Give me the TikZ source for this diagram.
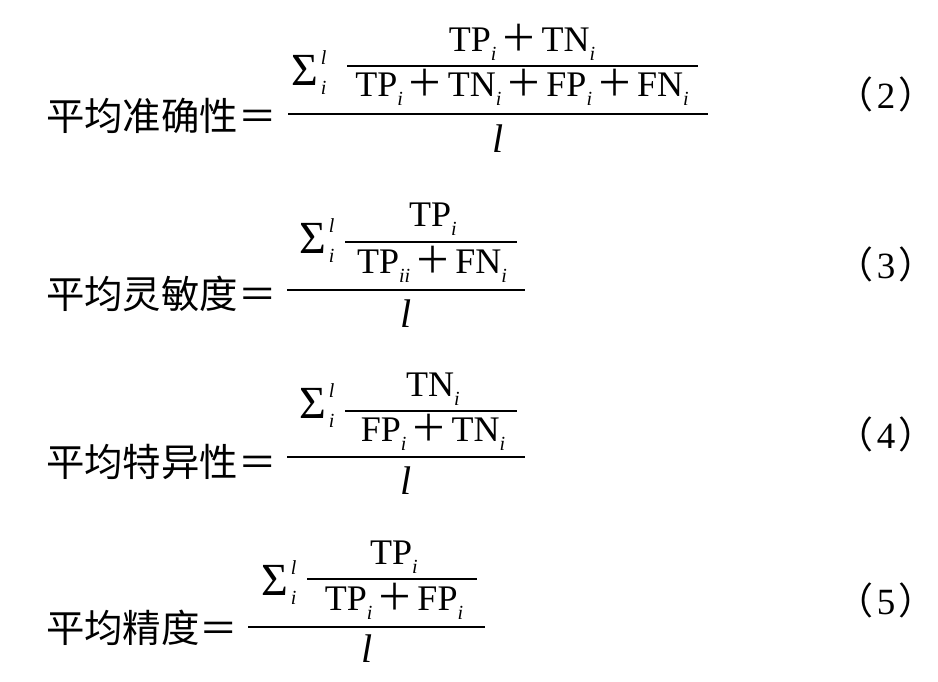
\documentclass[tikz,border=0pt]{standalone}
\usepackage{fontspec}
\setmainfont{Liberation Serif}
\newfontfamily\cjk{Noto Sans CJK SC}
\newcommand\lat{\fontsize{36}{36}\selectfont}
\newcommand\sbf{\fontsize{20}{20}\selectfont\itshape}
\newcommand\sbi[1]{\raisebox{-9pt}{\sbf #1}}
\newcommand\pls{\makebox[45pt]{\cjk\fontsize{37}{37}\selectfont ＋}}
\newcommand\eqn[1]{\cjk（\hspace{3pt}\rmfamily #1\hspace{3pt}\cjk）}
\newcommand\sumli{Σ\hspace{3pt}\rlap{\raisebox{21pt}{\sbf l}}\raisebox{-9pt}{\sbf i}}
\tikzset{
  cn/.style={anchor=base west, inner sep=0pt, font=\cjk\fontsize{38.4}{38.4}\selectfont},
  tx/.style={anchor=base, inner sep=0pt, font=\lat},
  sig/.style={anchor=base west, inner sep=0pt, font=\fontsize{46}{46}\selectfont},
  bigl/.style={anchor=base, inner sep=0pt, font=\fontsize{40}{40}\selectfont\itshape},
  eqno/.style={anchor=base, inner sep=0pt, font=\fontsize{37}{37}\selectfont},
  bar/.style={line width=1.6pt}
}
\begin{document}
\begin{tikzpicture}[x=1pt,y=-1pt]
\useasboundingbox (0,0) rectangle (938,681);
% ---------- equation (2)
\node[cn] (c1) at (46,130) {平均准确性＝};
\node[sig] (s1) at (291,85) {\sumli};
\node[tx] (n1) at (522,51) {TP\sbi{i}\pls TN\sbi{i}};
\node[tx] (d1) at (522,96) {TP\sbi{i}\pls TN\sbi{i}\pls FP\sbi{i}\pls FN\sbi{i}};
\coordinate (i1a) at (347,66); \coordinate (i1b) at (698,66);
\coordinate (m1a) at (288,114); \coordinate (m1b) at (708,114);
\draw[bar] (i1a) -- (i1b);
\draw[bar] (m1a) -- (m1b);
\node[bigl] (l1) at (498,152) {l};
\node[eqno] (e1) at (886,108) {\eqn{2}};
% ---------- equation (3)
\node[cn] (c2) at (46,308) {平均灵敏度＝};
\node[sig] (s2) at (299,253) {\sumli};
\node[tx] (n2) at (433,226) {TP\sbi{i}};
\node[tx] (d2) at (432,273) {TP\sbi{ii}\pls FN\sbi{i}};
\coordinate (i2a) at (345,242); \coordinate (i2b) at (517,242);
\coordinate (m2a) at (287,290); \coordinate (m2b) at (525,290);
\draw[bar] (i2a) -- (i2b);
\draw[bar] (m2a) -- (m2b);
\node[bigl] (l2) at (406,327) {l};
\node[eqno] (e2) at (886,278) {\eqn{3}};
% ---------- equation (4)
\node[cn] (c3) at (46,476) {平均特异性＝};
\node[sig] (s3) at (299,418) {\sumli};
\node[tx] (n3) at (433,396) {TN\sbi{i}};
\node[tx] (d3) at (433,441) {FP\sbi{i}\pls TN\sbi{i}};
\coordinate (i3a) at (345,411); \coordinate (i3b) at (517,411);
\coordinate (m3a) at (287,457); \coordinate (m3b) at (525,457);
\draw[bar] (i3a) -- (i3b);
\draw[bar] (m3a) -- (m3b);
\node[bigl] (l3) at (406,494) {l};
\node[eqno] (e3) at (886,448) {\eqn{4}};
% ---------- equation (5)
\node[cn] (c4) at (46,642) {平均精度＝};
\node[sig] (s4) at (261,595) {\sumli};
\node[tx] (n4) at (394,564) {TP\sbi{i}};
\node[tx] (d4) at (394,610) {TP\sbi{i}\pls FP\sbi{i}};
\coordinate (i4a) at (307,579); \coordinate (i4b) at (477,579);
\coordinate (m4a) at (248,627); \coordinate (m4b) at (485,627);
\draw[bar] (i4a) -- (i4b);
\draw[bar] (m4a) -- (m4b);
\node[bigl] (l4) at (367,662) {l};
\node[eqno] (e4) at (886,614) {\eqn{5}};
\end{tikzpicture}
\end{document}
